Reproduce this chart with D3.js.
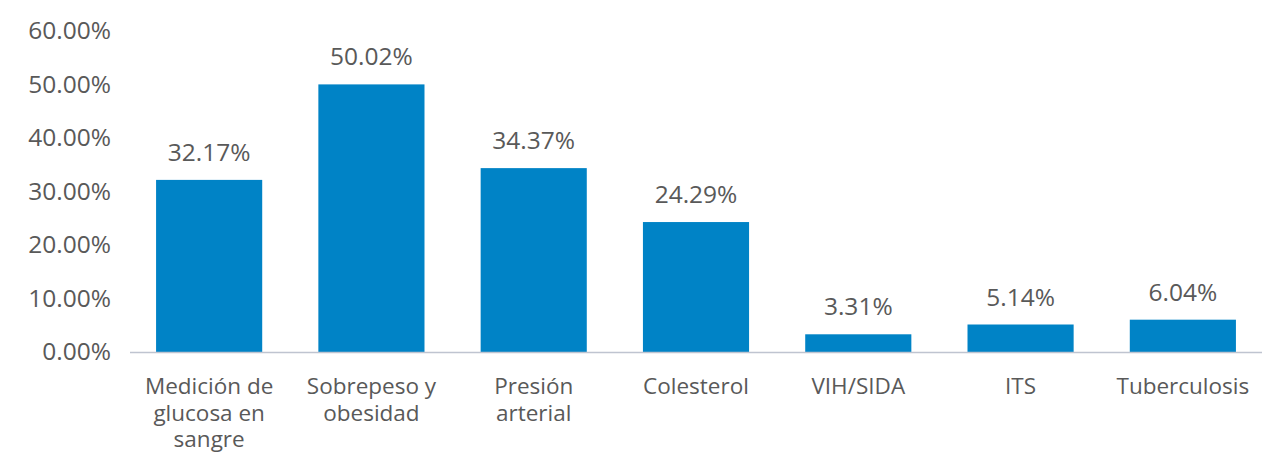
<!DOCTYPE html>
<html><head><meta charset="utf-8">
<script src="https://cdn.jsdelivr.net/npm/d3@7"></script>
<style>body{margin:0;background:#fff}svg{display:block}text{font-family:"Open Sans",sans-serif;fill:#595959}</style>
</head><body><svg id="c" width="1284" height="455"></svg>
<script>
const categories = [["Medición de","glucosa en","sangre"],["Sobrepeso y","obesidad"],["Presión","arterial"],["Colesterol"],["VIH/SIDA"],["ITS"],["Tuberculosis"]];
const values = [32.17, 50.02, 34.37, 24.29, 3.31, 5.14, 6.04];
const yTicks = [0, 10, 20, 30, 40, 50, 60];

const svg = d3.select("#c");
const keys = categories.map((c,i)=>i);
const x = d3.scaleBand().domain(keys).range([128,1264]).paddingInner(0.346).paddingOuter(0.173);
const y = d3.scaleLinear().domain([0,60]).range([352,31]);
const fsNum = 24.5, fsCat = 22.5;

// y tick labels
svg.append("g").selectAll("text").data(yTicks).join("text")
  .attr("x",111).attr("y",d=>y(d)).attr("dy","0.33em")
  .attr("text-anchor","end").style("font-size",fsNum+"px")
  .text(d=>d.toFixed(2)+"%");

// bars
svg.append("g").selectAll("rect").data(values).join("rect")
  .attr("x",(d,i)=>x(i)).attr("width",x.bandwidth())
  .attr("y",d=>y(d)).attr("height",d=>y(0)-y(d))
  .attr("fill","#0083C6");

// axis line
svg.append("line").attr("x1",130).attr("x2",1262).attr("y1",y(0)+0.5).attr("y2",y(0)+0.5)
  .attr("stroke","#BFC4D0").attr("stroke-width",1.5);

// value labels
svg.append("g").selectAll("text").data(values).join("text")
  .attr("x",(d,i)=>x(i)+x.bandwidth()/2).attr("y",d=>y(d)-19)
  .attr("text-anchor","middle").style("font-size",fsNum+"px")
  .text(d=>d.toFixed(2)+"%");

// category labels
const cg = svg.append("g").selectAll("text").data(categories).join("text")
  .attr("text-anchor","middle").style("font-size",fsCat+"px")
  .attr("transform",(d,i)=>`translate(${x(i)+x.bandwidth()/2},394)`);
cg.selectAll("tspan").data(d=>d).join("tspan")
  .attr("x",0).attr("y",(d,j)=>j*26.5).text(d=>d);
</script></body></html>
